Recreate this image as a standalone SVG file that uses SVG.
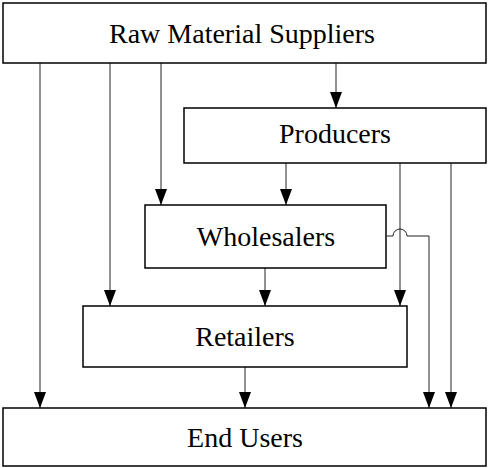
<svg xmlns="http://www.w3.org/2000/svg" width="489" height="468" viewBox="0 0 489 468">
<style>
.box{fill:#fff;stroke:#000;stroke-width:1.5}
.lbl{font-family:"Liberation Serif","Times New Roman",serif;font-size:28px;fill:#000;text-anchor:middle}
.c{fill:none;stroke:#222;stroke-width:1}
</style>
<defs>
<marker id="a" markerUnits="userSpaceOnUse" markerWidth="16" markerHeight="12" refX="16" refY="6" orient="auto" viewBox="0 0 16 12">
<path d="M0,0 L16,6 L0,12 Z" fill="#000"/>
</marker>
</defs>
<g id="connectors">
<path class="c" d="M40,63 V408" marker-end="url(#a)"/>
<path class="c" d="M110,63 V306" marker-end="url(#a)"/>
<path class="c" d="M161,63 V205" marker-end="url(#a)"/>
<path class="c" d="M336,63 V108" marker-end="url(#a)"/>
<path class="c" d="M286,163 V205" marker-end="url(#a)"/>
<path class="c" d="M400,163 V306" marker-end="url(#a)"/>
<path class="c" d="M451,163 V408" marker-end="url(#a)"/>
<path class="c" d="M265,268 V306" marker-end="url(#a)"/>
<path class="c" d="M387,236 H393 A7,7 0 0 1 407,236 H429 V408" marker-end="url(#a)"/>
<path class="c" d="M245,367 V408" marker-end="url(#a)"/>
</g>
<g id="raw-material-suppliers">
<rect class="box" x="3" y="3" width="483" height="60"/>
<text class="lbl" x="242" y="43">Raw Material Suppliers</text>
</g>
<g id="producers">
<rect class="box" x="184" y="108" width="302" height="55"/>
<text class="lbl" x="335" y="143">Producers</text>
</g>
<g id="wholesalers">
<rect class="box" x="145" y="205" width="241" height="63"/>
<text class="lbl" x="266" y="246">Wholesalers</text>
</g>
<g id="retailers">
<rect class="box" x="83" y="306" width="324" height="61"/>
<text class="lbl" x="245" y="346">Retailers</text>
</g>
<g id="end-users">
<rect class="box" x="3" y="408" width="483" height="58"/>
<text class="lbl" x="245" y="447">End Users</text>
</g>
</svg>
